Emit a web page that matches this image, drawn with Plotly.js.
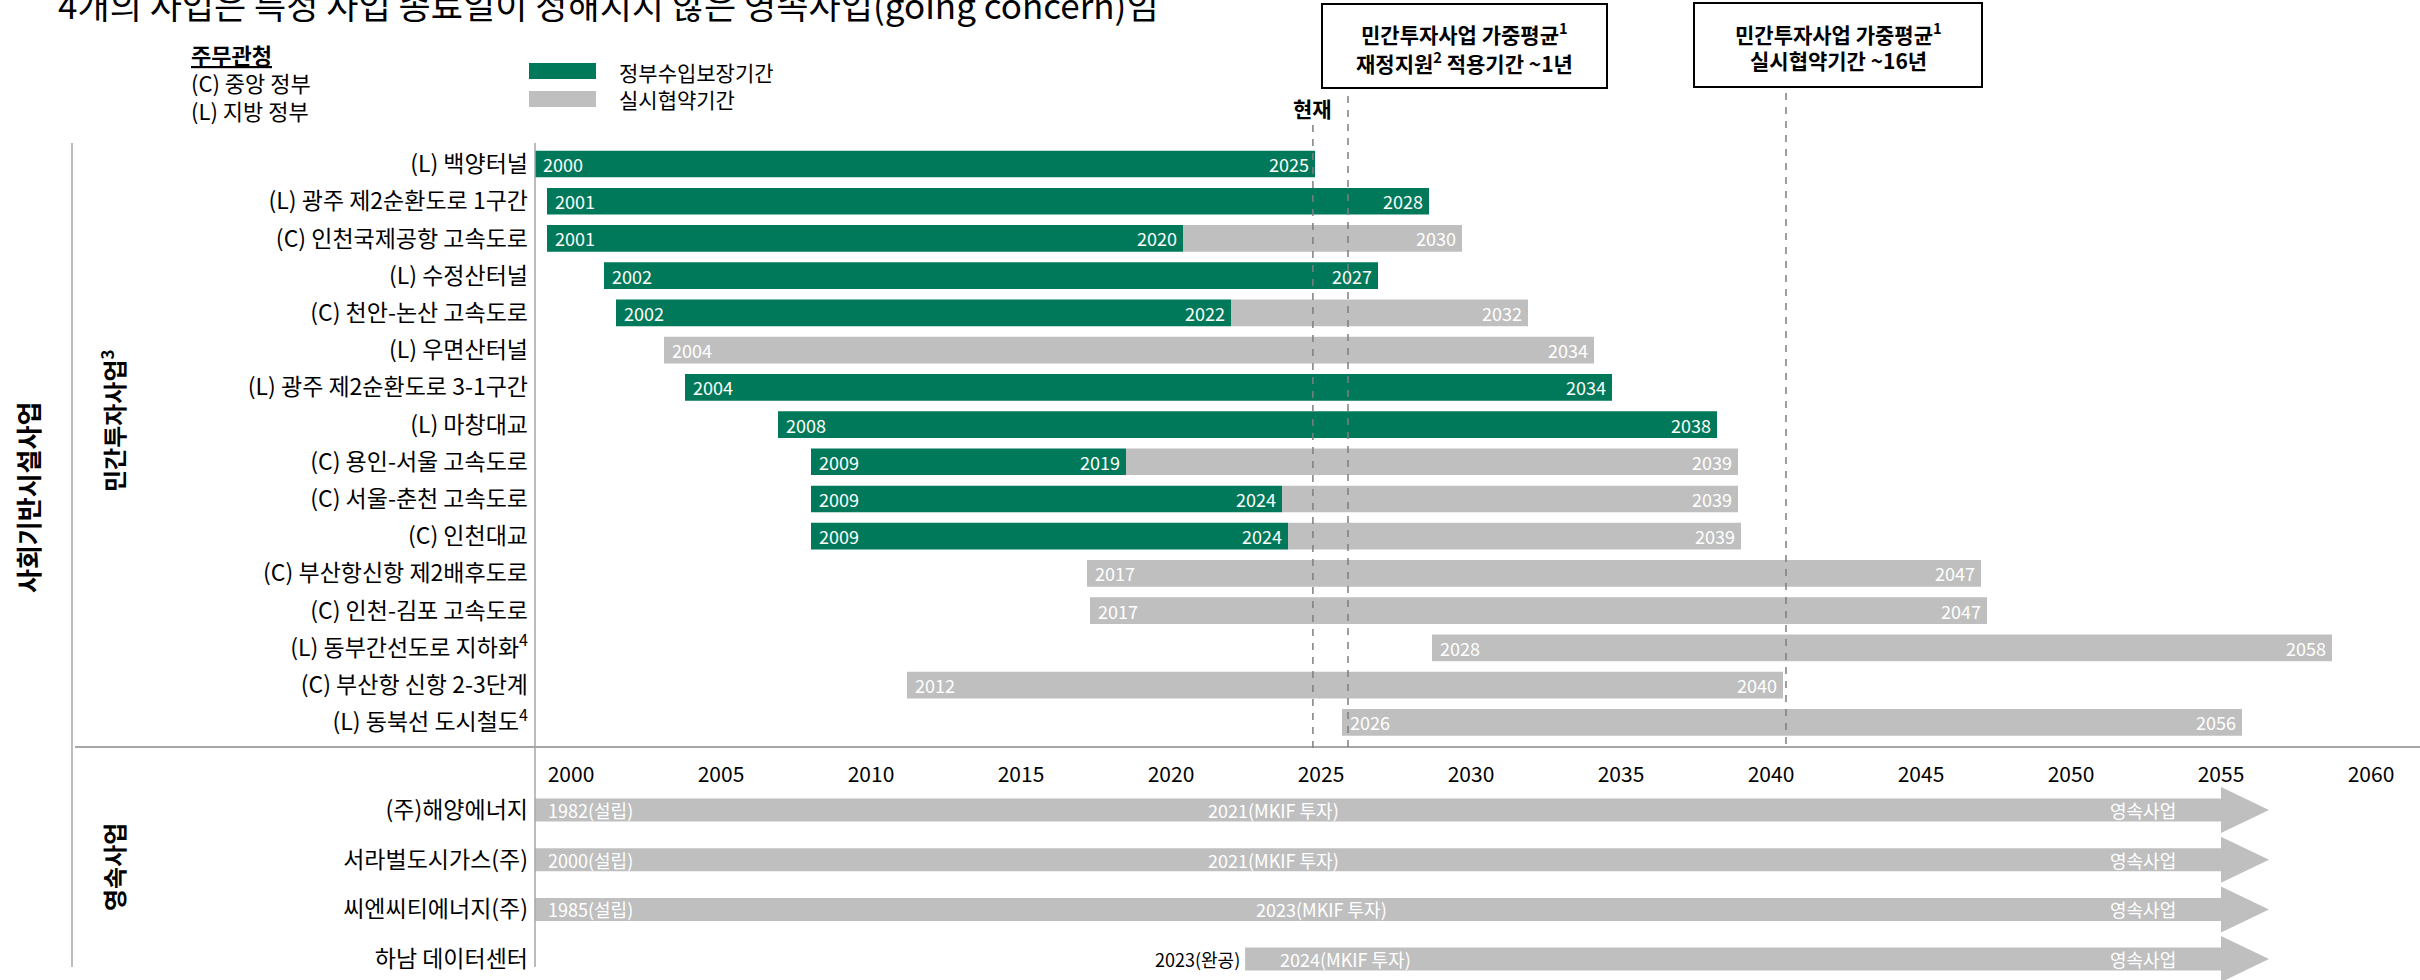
<!DOCTYPE html>
<html><head><meta charset="utf-8">
<script src="https://cdn.plot.ly/plotly-3.0.1.min.js"></script>
<style>html,body{margin:0;padding:0;background:#fff;} #chart{width:2420px;height:980px;}</style>
</head><body><div id="chart"></div>
<script>
// ---------- data ----------
const topNames = ['(L) 백양터널','(L) 광주 제2순환도로 1구간','(C) 인천국제공항 고속도로','(L) 수정산터널','(C) 천안-논산 고속도로','(L) 우면산터널','(L) 광주 제2순환도로 3-1구간','(L) 마창대교','(C) 용인-서울 고속도로','(C) 서울-춘천 고속도로','(C) 인천대교','(C) 부산항신항 제2배후도로','(C) 인천-김포 고속도로','(L) 동부간선도로 지하화<sup>4</sup>','(C) 부산항 신항 2-3단계','(L) 동북선 도시철도<sup>4</sup>'];
const topStart = [1998.8,1999.2,1999.2,2001.1,2001.5,2003.1,2003.8,2006.9,2008.0,2008.0,2008.0,2017.2,2017.3,2028.7,2011.2,2025.7];
const guaranteeEnd = [2024.8,2028.6,2020.4,2026.9,2022.0,null,2034.7,2038.2,2018.5,2023.7,2023.9,null,null,null,null,null];
const contractEnd = [null,null,2029.7,null,2031.9,2034.1,null,null,2038.9,2038.9,2039.0,2047.0,2047.2,2058.7,2040.4,2055.7];
const startLabels = ['2000','2001','2001','2002','2002','2004','2004','2008','2009','2009','2009','2017','2017','2028','2012','2026'];
const guaranteeLabels = ['2025','2028','2020','2027','2022','','2034','2038','2019','2024','2024','','','','',''];
const contractLabels = ['','','2030','','2032','2034','','','2039','2039','2039','2047','2047','2058','2040','2056'];

const persistNames = ['(주)해양에너지','서라벌도시가스(주)','씨엔씨티에너지(주)','하남 데이터센터'];
const persistStart = [1998.8,1998.8,1998.8,2022.47];
const persistEnd = [2055.0,2055.0,2055.0,2055.0];
const persistArrowTip = [2056.6,2056.6,2056.6,2056.6];
const foundedLabels = ['1982(설립)','2000(설립)','1985(설립)',''];
const investLabels = ['2021(MKIF 투자)','2021(MKIF 투자)','2023(MKIF 투자)','2024(MKIF 투자)'];
const completedLabels = ['','','','2023(완공)'];
const persistTags = ['영속사업','영속사업','영속사업','영속사업'];

const refLineYears = [2024.73, 2025.9, 2040.5];
const legendNames = ['정부수입보장기간','실시협약기간'];

// ---------- style / layout helpers ----------
const FONT = '"Noto Sans CJK KR", "Noto Sans", sans-serif';
const GREEN = '#00795A', GRAY = '#BFBFBF', LINE = '#A6A6A6';
const W = 2420, H = 980, ML = 535, PW = W - ML;
const px = p => (p - ML) / PW;
const py = p => 1 - p / H;
const investLabelX = [2023.4, 2023.4, 2025.0, 2025.8];
const persistTagX = 2052.4;
const topIdx = topNames.map((_, i) => i);
const botIdx = persistNames.map((_, i) => i);

const traces = [];
traces.push({
  type: 'bar', orientation: 'h', xaxis: 'x', yaxis: 'y',
  y: topIdx,
  base: topIdx.map(i => guaranteeEnd[i] != null ? guaranteeEnd[i] : topStart[i]),
  x: topIdx.map(i => contractEnd[i] != null ? contractEnd[i] - (guaranteeEnd[i] != null ? guaranteeEnd[i] : topStart[i]) : null),
  width: 0.717, marker: {color: GRAY}, hoverinfo: 'skip', showlegend: false
});
traces.push({
  type: 'bar', orientation: 'h', xaxis: 'x', yaxis: 'y',
  y: topIdx, base: topStart,
  x: topIdx.map(i => guaranteeEnd[i] != null ? guaranteeEnd[i] - topStart[i] : null),
  width: 0.717, marker: {color: GREEN}, hoverinfo: 'skip', showlegend: false
});
traces.push({
  type: 'bar', orientation: 'h', xaxis: 'x', yaxis: 'y2',
  y: botIdx, base: persistStart,
  x: botIdx.map(i => persistEnd[i] - persistStart[i]),
  width: 0.463, marker: {color: GRAY}, hoverinfo: 'skip', showlegend: false
});
const ax = [], ay = [];
botIdx.forEach(i => {
  ax.push(persistEnd[i], persistArrowTip[i], persistEnd[i], null);
  ay.push(i - 0.463, i, i + 0.463, null);
});
traces.push({
  type: 'scatter', mode: 'lines', xaxis: 'x', yaxis: 'y2', x: ax, y: ay,
  fill: 'toself', fillcolor: GRAY, line: {width: 0, color: GRAY},
  hoverinfo: 'skip', showlegend: false, cliponaxis: false
});

const ann = [];
const inFont = {family: FONT, size: 18, color: '#FFFFFF'};
topIdx.forEach(i => {
  if (startLabels[i]) ann.push({xref: 'x', yref: 'y', x: topStart[i], y: i, xanchor: 'left', yanchor: 'middle', xshift: 6, text: startLabels[i], showarrow: false, font: inFont});
  if (guaranteeLabels[i]) ann.push({xref: 'x', yref: 'y', x: guaranteeEnd[i], y: i, xanchor: 'right', yanchor: 'middle', xshift: -4, text: guaranteeLabels[i], showarrow: false, font: inFont});
  if (contractLabels[i]) ann.push({xref: 'x', yref: 'y', x: contractEnd[i], y: i, xanchor: 'right', yanchor: 'middle', xshift: -4, text: contractLabels[i], showarrow: false, font: inFont});
});
botIdx.forEach(i => {
  if (foundedLabels[i]) ann.push({xref: 'x', yref: 'y2', x: persistStart[i], y: i, xanchor: 'left', yanchor: 'middle', xshift: 11, text: foundedLabels[i], showarrow: false, font: inFont});
  ann.push({xref: 'x', yref: 'y2', x: investLabelX[i], y: i, xanchor: 'center', yanchor: 'middle', text: investLabels[i], showarrow: false, font: inFont});
  ann.push({xref: 'x', yref: 'y2', x: persistTagX, y: i, xanchor: 'center', yanchor: 'middle', text: persistTags[i], showarrow: false, font: inFont});
  if (completedLabels[i]) ann.push({xref: 'x', yref: 'y2', x: persistStart[i], y: i, xanchor: 'right', yanchor: 'middle', xshift: -3, text: completedLabels[i], showarrow: false, font: {family: FONT, size: 18, color: '#000'}});
});

const paperText = (x, y, text, size, opts) => Object.assign({xref: 'paper', yref: 'paper', x: px(x), y: py(y), text: text, showarrow: false, xanchor: 'left', yanchor: 'middle', font: {family: FONT, size: size, color: '#000'}}, opts || {});

ann.push(paperText(56, 3, '4개의 사업은 특정 사업 종료일이 정해지지 않은 영속사업(going concern)임', 35));
ann.push(paperText(189, 54, '<b><u>주무관청</u></b>', 22));
ann.push(paperText(189, 82, '(C) 중앙 정부', 22));
ann.push(paperText(189, 110, '(L) 지방 정부', 22));
ann.push(paperText(617, 72, legendNames[0], 21));
ann.push(paperText(617, 99, legendNames[1], 21));
ann.push(paperText(1464, 33, '<b>민간투자사업 가중평균<sup>1</sup></b>', 21, {xanchor: 'center'}));
ann.push(paperText(1464, 62, '<b>재정지원<sup>2</sup> 적용기간 ~1년</b>', 21, {xanchor: 'center'}));
ann.push(paperText(1838, 33, '<b>민간투자사업 가중평균<sup>1</sup></b>', 21, {xanchor: 'center'}));
ann.push(paperText(1838, 60, '<b>실시협약기간 ~16년</b>', 21, {xanchor: 'center'}));
ann.push(paperText(1312, 108, '<b>현재</b>', 21, {xanchor: 'center'}));
ann.push(paperText(27, 498, '<b>사회기반시설사업</b>', 26, {xanchor: 'center', textangle: -90}));
ann.push(paperText(113, 421, '<b>민간투자사업<sup>3</sup></b>', 24, {xanchor: 'center', textangle: -90}));
ann.push(paperText(113, 867, '<b>영속사업</b>', 24, {xanchor: 'center', textangle: -90}));

const shapes = [];
const pline = (x0, y0, x1, y1, color, width, dash) => ({type: 'line', xref: 'paper', yref: 'paper', x0: px(x0), y0: py(y0), x1: px(x1), y1: py(y1), line: {color: color, width: width, dash: dash || 'solid'}});
shapes.push(pline(72, 143, 72, 967, LINE, 1.5));
shapes.push(pline(535, 143, 535, 967, LINE, 1.5));
shapes.push(pline(75, 747, 2420, 747, LINE, 2));
const refTops = [125, 96, 93], refBots = [750, 750, 745];
refLineYears.forEach((yr, k) => shapes.push({type: 'line', xref: 'x', yref: 'paper', x0: yr, x1: yr, y0: py(refTops[k]), y1: py(refBots[k]), line: {color: '#7F7F7F', width: 1.5, dash: '7px,7px'}}));
const prect = (x0, y0, x1, y1, fill, lc, lw) => ({type: 'rect', xref: 'paper', yref: 'paper', x0: px(x0), y0: py(y1), x1: px(x1), y1: py(y0), fillcolor: fill, line: {color: lc, width: lw}});
shapes.push(prect(1322, 4, 1607, 88, 'rgba(0,0,0,0)', '#000', 2));
shapes.push(prect(1694, 3, 1982, 87, 'rgba(0,0,0,0)', '#000', 2));
shapes.push(prect(529, 63, 596, 79, GREEN, GREEN, 0));
shapes.push(prect(529, 91, 596, 107, GRAY, GRAY, 0));

const tickFont = {family: FONT, size: 21, color: '#000'};
const rowFont = {family: FONT, size: 23, color: '#000'};
const layout = {
  width: W, height: H, margin: {l: ML, r: 0, t: 0, b: 0, pad: 0},
  paper_bgcolor: '#fff', plot_bgcolor: 'rgba(0,0,0,0)',
  barmode: 'overlay', showlegend: false,
  font: {family: FONT, color: '#000'},
  xaxis: {range: [1998.8, 1998.8 + PW / 30], tick0: 2000, dtick: 5, anchor: 'free', position: py(760), side: 'bottom',
          showgrid: false, zeroline: false, showline: false, ticks: '', tickfont: tickFont, automargin: false, fixedrange: true},
  yaxis: {domain: [py(747), py(143)], range: [15.664, -0.5642], tickvals: topIdx, ticktext: topNames, anchor: 'x',
          showgrid: false, zeroline: false, showline: false, ticks: '', tickfont: rowFont, ticklabelstandoff: 6, automargin: false, fixedrange: true},
  yaxis2: {domain: [0, py(747)], range: [3.4205, -1.2676], tickvals: botIdx, ticktext: persistNames, anchor: 'x',
          showgrid: false, zeroline: false, showline: false, ticks: '', tickfont: rowFont, ticklabelstandoff: 6, automargin: false, fixedrange: true},
  annotations: ann, shapes: shapes
};
Plotly.newPlot('chart', traces, layout, {displayModeBar: false, staticPlot: true});
</script></body></html>
